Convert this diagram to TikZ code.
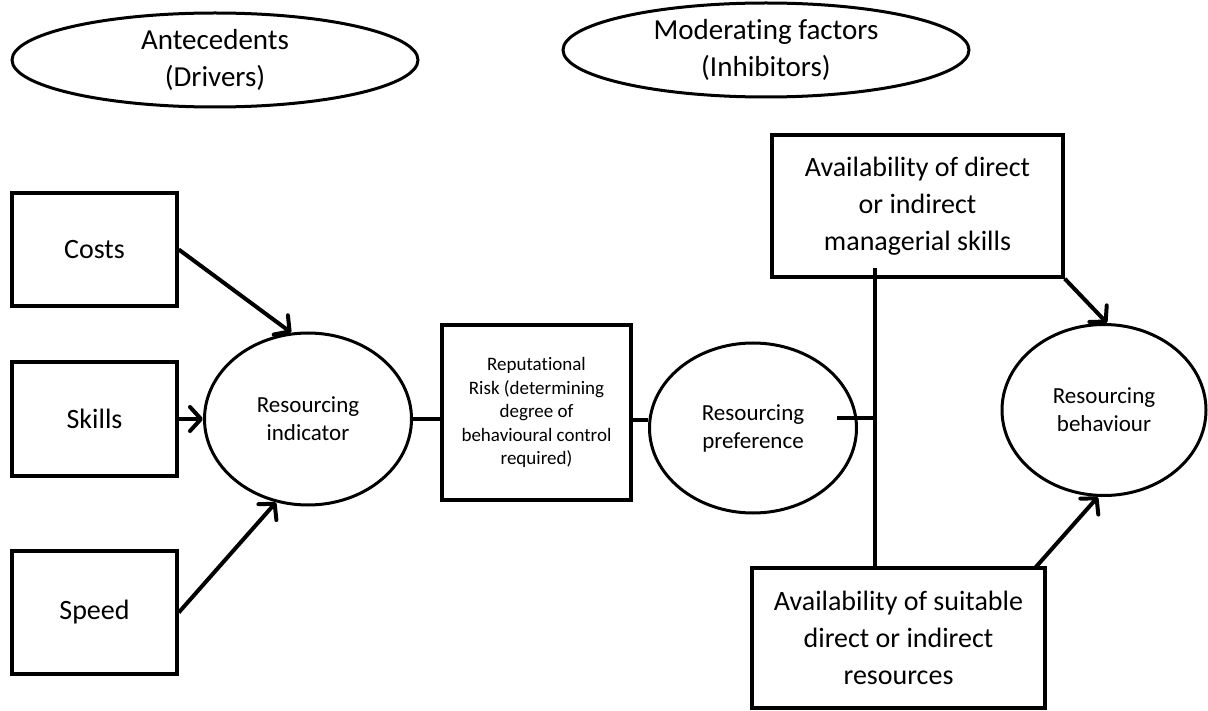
\documentclass[tikz,border=0pt]{standalone}
\usepackage{fontspec}
\setmainfont{Carlito}[Ligatures=NoCommon]
\usetikzlibrary{shapes.geometric,arrows.meta,calc}
\begin{document}
\begin{tikzpicture}[x=1pt,y=-1pt,
  box/.style={draw, line width=3.5pt, rectangle, inner sep=0pt, align=center},
  oval/.style={draw, line width=3pt, ellipse, inner sep=0pt, align=center},
  lbl/.style={align=center},
  big/.style={font=\fontsize{29}{37}\selectfont},
  mid/.style={font=\fontsize{28}{37}\selectfont},
  sml/.style={font=\fontsize{23}{28}\selectfont},
  tiny/.style={font=\fontsize{19}{23.5}\selectfont},
  conn/.style={line width=4pt},
  arr/.style={line width=4pt, -{Straight Barb[length=11pt, width=24pt, round]}}]
\useasboundingbox (0,0) rectangle (1208,711);

% header ellipses
\node[oval, minimum width=406pt, minimum height=94pt,
      label={[lbl,big]center:{Antecedents\\(Drivers)}}] (ant) at (215,60) {};
\node[oval, minimum width=406pt, minimum height=94pt,
      label={[lbl,big]center:{Moderating factors\\(Inhibitors)}}] (mod) at (766,50) {};

% left boxes
\node[box, mid, minimum width=165pt, minimum height=113pt] (costs) at (94.5,249.5) {Costs};
\node[box, mid, minimum width=165pt, minimum height=114pt] (skills) at (94.5,419) {Skills};
\node[box, mid, minimum width=165pt, minimum height=123pt] (speed) at (94.5,612.5) {Speed};

% indicator
\node[oval, sml, minimum width=207pt, minimum height=172pt] (ind) at (308,419) {Resourcing\\indicator};

% reputational risk
\node[box, tiny, minimum width=189pt, minimum height=175pt] (rep) at (536.5,412.5)
  {Reputational\\Risk (determining\\degree of\\behavioural control\\required)};

% preference
\node[oval, sml, minimum width=207pt, minimum height=170pt] (pref) at (753,428) {Resourcing\\preference};

% moderating boxes
\node[box, mid, minimum width=291pt, minimum height=142pt] (top) at (917.5,206)
  {Availability of direct\\or indirect\\managerial skills};
\node[box, mid, minimum width=293pt, minimum height=140pt] (bot) at (898.5,638)
  {Availability of suitable\\direct or indirect\\resources};

% behaviour
\node[oval, sml, minimum width=204pt, minimum height=171pt] (beh) at (1104,410) {Resourcing\\behaviour};

% connectors
\draw[arr] (costs.east) -- (ind.101);
\draw[arr] (skills.east) -- (ind.west);
\draw[arr] (speed.east) -- (ind.249);
\draw[conn] (ind.east) -- (ind.east -| rep.west);
\draw[conn] (rep.east |- 0,420) -- (pref.west |- 0,420);

\coordinate (vt) at (875,268);
\coordinate (ph) at (837,418);
\draw[conn] (vt) -- (vt |- bot.north);
\draw[conn] (ph) -- (ph -| vt);

\draw[arr] (top.south east) -- (beh.88);
\coordinate (bs) at (1035,568);
\draw[arr] (bs) -- (beh.266);
\end{tikzpicture}
\end{document}
